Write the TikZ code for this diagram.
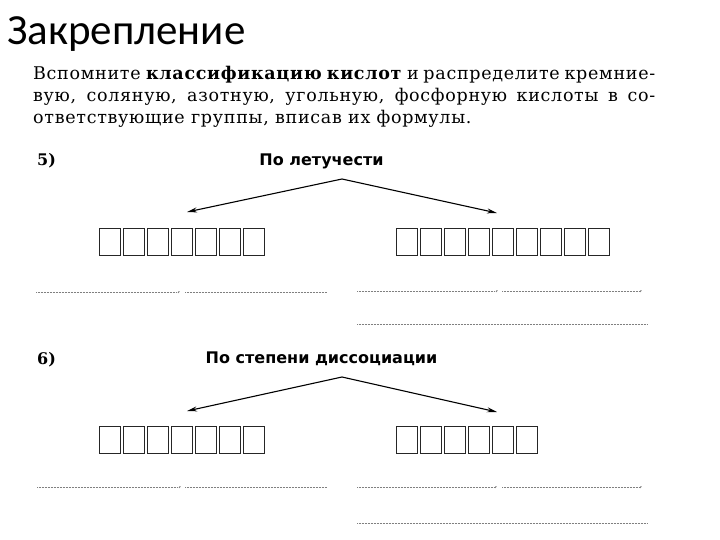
\documentclass[tikz,border=0pt]{standalone}
\usepackage{fontspec}
\setmainfont{DejaVu Serif}
\newfontfamily\parafont[LetterSpace=4]{DejaVu Serif}
\newfontfamily\titlefont{Carlito}
\newfontfamily\headfont{DejaVu Sans}
\usetikzlibrary{arrows.meta}
\begin{document}
\begin{tikzpicture}[x=1pt,y=-1pt,
  cell/.style={draw=black!85, line width=1.1pt, minimum width=20.5pt, minimum height=27pt, inner sep=0pt, anchor=north west},
  arr/.style={line width=1.1pt, -{Stealth[length=10pt,width=5pt]}},
  dots/.style={line width=0.7pt, black!50, dash pattern=on 0.7pt off 0.8pt},
  para/.style={anchor=base west, inner sep=0pt, font=\parafont\fontsize{17.5}{20}\selectfont},
  num/.style={anchor=base west, inner sep=0pt, font=\bfseries\fontsize{16}{18}\selectfont},
  head/.style={anchor=base, inner sep=0pt, font=\headfont\bfseries\fontsize{16}{18}\selectfont},
  commamark/.style={anchor=base, inner sep=0pt, font=\fontsize{9}{9}\selectfont, black!70}]
\useasboundingbox[fill=white] (0,0) rectangle (720,540);
% title
\node[anchor=base west, inner sep=0pt, font=\titlefont\fontsize{43}{43}\selectfont] (title) at (7,45) {Закрепление};
% paragraph
\node[para] (p1) at (33,80) {\makebox[622pt][s]{Вспомните \textbf{классификацию кислот} и распределите кремние-}};
\node[para] (p2) at (33,102) {\makebox[622pt][s]{вую, соляную, азотную, угольную, фосфорную кислоты в со-}};
\node[para] (p3) at (33,124) {ответствующие группы, вписав их формулы.};
% section 5
\node[num] (n5) at (37,166) {5)};
\node[head] (h5) at (321.5,166) {По летучести};
\coordinate (a5) at (342,179);
\coordinate (l5) at (187,212);
\coordinate (r5) at (497,213);
\draw[arr] (a5) -- (l5);
\draw[arr] (a5) -- (r5);
\foreach \i in {0,...,6} \node[cell] (c5l\i) at ({99+24*\i},228) {};
\foreach \i in {0,...,8} \node[cell] (c5r\i) at ({396+24*\i},228) {};
\coordinate (d5a) at (36,292); \coordinate (d5b) at (177,292);
\coordinate (d5c) at (185,292); \coordinate (d5d) at (327,292);
\draw[dots] (d5a) -- (d5b); \draw[dots] (d5c) -- (d5d);
\node[commamark] (k5a) at (179,292) {,};
\coordinate (d5e) at (357,291); \coordinate (d5f) at (495,291);
\coordinate (d5g) at (502,291); \coordinate (d5h) at (639,291);
\draw[dots] (d5e) -- (d5f); \draw[dots] (d5g) -- (d5h);
\node[commamark] (k5b) at (497,291) {,};
\node[commamark] (k5c) at (641,291) {,};
\coordinate (d5i) at (357,324); \coordinate (d5j) at (647,324);
\draw[dots] (d5i) -- (d5j);
% section 6
\node[num] (n6) at (37,364) {6)};
\node[head] (h6) at (321.5,363) {По степени диссоциации};
\coordinate (a6) at (342,377);
\coordinate (l6) at (187,411);
\coordinate (r6) at (497,412);
\draw[arr] (a6) -- (l6);
\draw[arr] (a6) -- (r6);
\foreach \i in {0,...,6} \node[cell] (c6l\i) at ({99+24*\i},426) {};
\foreach \i in {0,...,5} \node[cell] (c6r\i) at ({396+24*\i},426) {};
\coordinate (d6a) at (37,487); \coordinate (d6b) at (178,487);
\coordinate (d6c) at (185,487); \coordinate (d6d) at (327,487);
\draw[dots] (d6a) -- (d6b); \draw[dots] (d6c) -- (d6d);
\node[commamark] (k6a) at (180,487) {,};
\coordinate (d6e) at (357,487); \coordinate (d6f) at (494,487);
\coordinate (d6g) at (502,487); \coordinate (d6h) at (639,487);
\draw[dots] (d6e) -- (d6f); \draw[dots] (d6g) -- (d6h);
\node[commamark] (k6b) at (496,487) {,};
\node[commamark] (k6c) at (641,487) {,};
\coordinate (d6i) at (357,523); \coordinate (d6j) at (647,523);
\draw[dots] (d6i) -- (d6j);
\end{tikzpicture}
\end{document}
